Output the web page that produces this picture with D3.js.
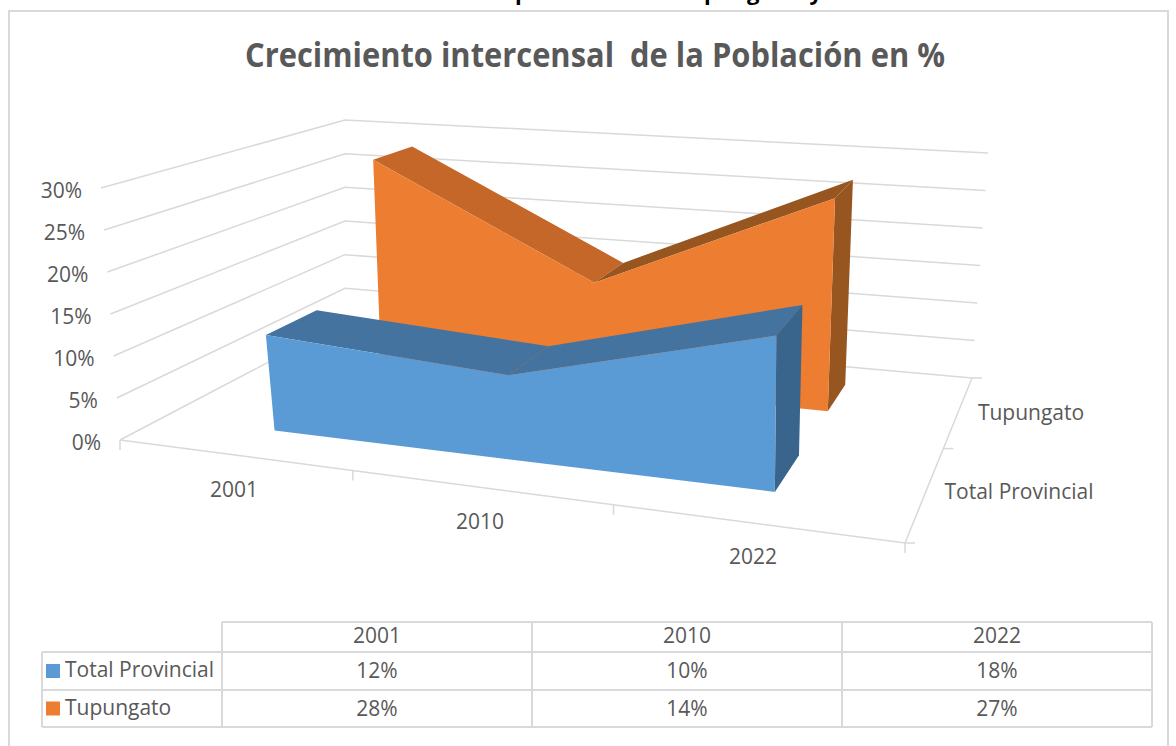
<!DOCTYPE html>
<html><head><meta charset="utf-8">
<script src="https://cdn.jsdelivr.net/npm/d3@7"></script>
<style>html,body{margin:0;padding:0;background:#fff}svg{display:block}text{font-family:"Open Sans","Liberation Sans",sans-serif}</style>
</head><body><svg id="c" width="1176" height="746"></svg>
<script>
const categories=["2001","2010","2022"];
const seriesNames=["Total Provincial","Tupungato"];
const totalProvincial=[0.116,0.10,0.18];
const tupungato=[0.28,0.138,0.27];
const yTicks=[0,0.05,0.10,0.15,0.20,0.25,0.30];
const seriesColors=["#5b9bd5","#ed7d31"];
const seriesTop=["#44739f","#c46729"];
const seriesSide=["#39658d","#975520"];
const gridColor="#d9d9d9", textColor="#595959";
const svg=d3.select("#c");

function homog(p00,p10,p11,p01){
  const [x0,y0]=p00,[x1,y1]=p10,[x2,y2]=p11,[x3,y3]=p01;
  const dx1=x1-x2,dx2=x3-x2,sx=x0-x1+x2-x3,dy1=y1-y2,dy2=y3-y2,sy=y0-y1+y2-y3;
  const den=dx1*dy2-dx2*dy1;
  const g=(sx*dy2-dx2*sy)/den,h=(dx1*sy-sx*dy1)/den;
  const a=x1-x0+g*x1,b=x3-x0+h*x3,c=x0,d=y1-y0+g*y1,e=y3-y0+h*y3,f=y0;
  return (u,v)=>{const w=g*u+h*v+1;return [(a*u+b*v+c)/w,(d*u+e*v+f)/w];};
}
const floor=homog([120,440],[905,543],[972,378],[345,322]);
const ceil=homog([101,188],[935,270],[988,153],[345,120]);
const ceilRibbon=homog([104,188],[946,275],[1000,153],[350,120]);
const yS=d3.scaleLinear().domain([0,0.30]).range([0,1]);
const uTick=d3.scaleLinear().domain([0,1,2,3]).range([0,0.343,0.677,1]);
const uCat=d3.scaleLinear().domain([0,1,2]).range([0.174,0.52,0.839]);
const project=top=>(u,v,val)=>{const a=floor(u,v),b=top(u,v),t=yS(val);return [a[0]+(b[0]-a[0])*t,a[1]+(b[1]-a[1])*t];};
const P=project(ceil), R=project(ceilRibbon);
const line=d3.line();
const grid=(pts,w=1.5)=>svg.append("path").attr("d",line(pts)).attr("fill","none").attr("stroke",gridColor).attr("stroke-width",w);

svg.append("path").attr("d",line([[9,746],[9,11],[1168,11],[1168,746]])).attr("fill","none").attr("stroke",gridColor).attr("stroke-width",2);
// heading of the document, cut off by the top edge as in the reference
svg.append("text").attr("x",822).attr("y",0).attr("text-anchor","end").attr("font-size",22).attr("font-weight",700).attr("word-spacing",8).attr("fill","#000").text("Crecimiento de la población de Tupungato y");
svg.append("text").attr("x",595).attr("y",67).attr("text-anchor","middle").attr("font-size",34).attr("font-weight",700).attr("fill",textColor).attr("xml:space","preserve").attr("textLength",700).attr("lengthAdjust","spacingAndGlyphs").text("Crecimiento intercensal  de la Población en %");

yTicks.forEach(t=>{
  grid([P(0,0,t),P(0,1,t),P(1,1,t)]);
  const l=P(0,0,t);
  svg.append("text").attr("x",l[0]-19).attr("y",l[1]+10).attr("text-anchor","end").attr("font-size",21).attr("fill",textColor).text(d3.format(".0%")(t));
});
grid([P(0,0,0),P(1,0,0),P(1,1,0)]);
d3.range(4).forEach(i=>{const p=P(uTick(i),0,0);grid([p,[p[0],p[1]+10]]);});
[0,0.5,1].forEach(v=>{const p=P(1,v,0);grid([p,[p[0]+10,p[1]]]);});

const vFront=[0.16,0.66],vBack=[0.37,0.86];
function ribbon(i,vals){
  const vf=vFront[i],vb=vBack[i];
  const us=categories.map((c,k)=>uCat(k));
  const front=us.map((u,k)=>R(u,vf,vals[k]));
  const back=us.map((u,k)=>R(u,vb,vals[k]));
  for(let k=0;k<2;k++){
    svg.append("path").attr("d",line([front[k],front[k+1],back[k+1],back[k]])+"Z")
      .attr("fill",(i===1&&vals[k+1]>vals[k])?seriesSide[i]:seriesTop[i]);
  }
  const e=us[2];
  svg.append("path").attr("d",line([R(e,vf,0),R(e,vb,0),R(e,vb,vals[2]),R(e,vf,vals[2])])+"Z").attr("fill",seriesSide[i]);
  svg.append("path").attr("d",line([R(us[0],vf,0),...front,R(us[2],vf,0)])+"Z").attr("fill",seriesColors[i]);
}
ribbon(1,tupungato);
ribbon(0,totalProvincial);

const catLabelX=[234,480,753], catLabelY=[497,529,564];
categories.forEach((c,i)=>svg.append("text").attr("x",catLabelX[i]).attr("y",catLabelY[i]).attr("text-anchor","middle").attr("font-size",21).attr("fill",textColor).text(c));
svg.append("text").attr("x",1031).attr("y",420).attr("text-anchor","middle").attr("font-size",21).attr("fill",textColor).text(seriesNames[1]);
svg.append("text").attr("x",1019).attr("y",499).attr("text-anchor","middle").attr("font-size",21).attr("fill",textColor).text(seriesNames[0]);

const colX=[222,532,842,1152], rowY=[622,652,690,727], tableLeft=42;
const tg=svg.append("g");
const tl=(a,b)=>tg.append("path").attr("d",line([a,b])).attr("stroke",gridColor).attr("stroke-width",2).attr("fill","none");
rowY.forEach((y,r)=>tl([r===0?colX[0]:tableLeft,y],[colX[3],y]));
colX.forEach(x=>tl([x,rowY[0]],[x,rowY[3]]));
tl([tableLeft,rowY[1]],[tableLeft,rowY[3]]);
const tt=(x,y,s,a="middle")=>tg.append("text").attr("x",x).attr("y",y).attr("text-anchor",a).attr("font-size",21).attr("fill",textColor).text(s);
categories.forEach((c,i)=>tt((colX[i]+colX[i+1])/2,643,c));
[totalProvincial,tupungato].forEach((vals,r)=>{
  const y=(rowY[r+1]+rowY[r+2])/2;
  tg.append("rect").attr("x",46).attr("y",y-7).attr("width",14).attr("height",14).attr("fill",seriesColors[r]);
  tt(65,y+6,seriesNames[r],"start");
  vals.forEach((v,i)=>tt((colX[i]+colX[i+1])/2,y+7,d3.format(".0%")(v)));
});
</script></body></html>
